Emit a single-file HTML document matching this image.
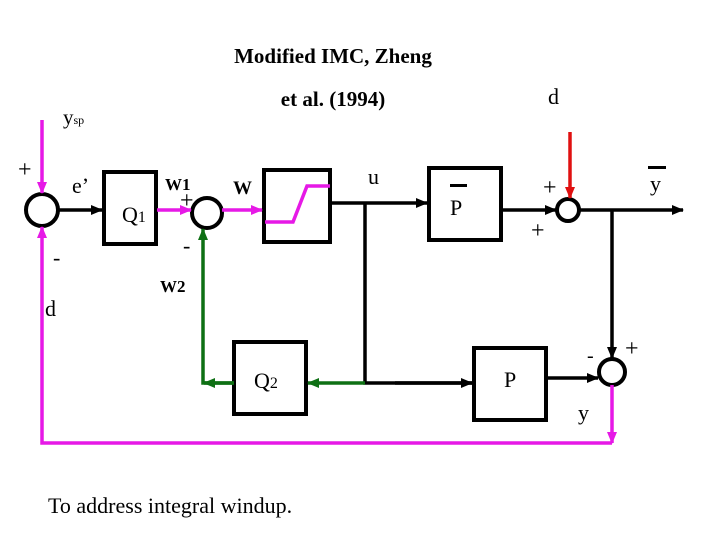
<!DOCTYPE html>
<html><head><style>body{margin:0;background:#fff}</style></head><body>
<svg width="720" height="540" viewBox="0 0 720 540" xmlns="http://www.w3.org/2000/svg" font-family="Liberation Serif, serif">
<defs>
<marker id="ak" markerWidth="12" markerHeight="10" refX="11" refY="5" orient="auto" markerUnits="userSpaceOnUse"><path d="M0,0 L12,5 L0,10 z" fill="#000"/></marker>
<marker id="am" markerWidth="12" markerHeight="10" refX="11" refY="5" orient="auto" markerUnits="userSpaceOnUse"><path d="M0,0 L12,5 L0,10 z" fill="#e619e6"/></marker>
<marker id="ag" markerWidth="12" markerHeight="10" refX="11" refY="5" orient="auto" markerUnits="userSpaceOnUse"><path d="M0,0 L12,5 L0,10 z" fill="#0e7014"/></marker>
<marker id="ar" markerWidth="12" markerHeight="10" refX="11" refY="5" orient="auto" markerUnits="userSpaceOnUse"><path d="M0,0 L12,5 L0,10 z" fill="#e01010"/></marker>
</defs>
<text x="333" y="63" font-size="21" font-weight="bold" text-anchor="middle">Modified IMC, Zheng</text>
<text x="333" y="106" font-size="21" font-weight="bold" text-anchor="middle">et al. (1994)</text>
<text x="548" y="104" font-size="22">d</text>
<text x="63" y="124" font-size="21">y<tspan font-size="12">sp</tspan></text>
<text x="18" y="177" font-size="24">+</text>
<text x="72" y="193" font-size="22">e’</text>
<text x="53" y="265" font-size="22">-</text>
<text x="45" y="316" font-size="22">d</text>
<text x="165" y="190" font-size="17" font-weight="bold">W1</text>
<text x="180" y="208" font-size="24">+</text>
<text x="183" y="253" font-size="22">-</text>
<text x="160" y="292" font-size="17" font-weight="bold">W2</text>
<text x="233" y="194" font-size="19" font-weight="bold">W</text>
<text x="368" y="184" font-size="22">u</text>
<text x="450" y="215" font-size="22">P</text>
<rect x="450" y="184" width="17" height="3" fill="#000"/>
<text x="543" y="195" font-size="24">+</text>
<text x="531" y="238" font-size="24">+</text>
<text x="650" y="191" font-size="22">y</text>
<rect x="648" y="166" width="18" height="3" fill="#000"/>
<text x="587" y="362" font-size="20">-</text>
<text x="625" y="356" font-size="24">+</text>
<text x="578" y="420" font-size="22">y</text>
<text x="504" y="387" font-size="22">P</text>
<text x="254" y="388" font-size="22">Q<tspan font-size="16">2</tspan></text>
<text x="122" y="222" font-size="22">Q<tspan font-size="16">1</tspan></text>
<text x="48" y="513" font-size="22">To address integral windup.</text>
<g fill="none" stroke="#000" stroke-width="4">
<rect x="104" y="172" width="52" height="72"/>
<rect x="264" y="170" width="66" height="72"/>
<rect x="429" y="168" width="72" height="72"/>
<rect x="234" y="342" width="72" height="72"/>
<rect x="474" y="348" width="72" height="72"/>
<circle cx="42" cy="210" r="16"/>
<circle cx="207" cy="213" r="15"/>
<circle cx="568" cy="210" r="11"/>
<circle cx="612" cy="372" r="13"/>
</g>
<g fill="none" stroke="#000" stroke-width="3.5">
<path d="M58,210 H102" marker-end="url(#ak)"/>
<path d="M331,203 H365 M365,203 V383 H472" />
<path d="M365,203 H427" marker-end="url(#ak)"/>
<path d="M395,383 H472" marker-end="url(#ak)"/>
<path d="M501,210 H556" marker-end="url(#ak)"/>
<path d="M579,210 H683" marker-end="url(#ak)"/>
<path d="M612,210 V358" marker-end="url(#ak)"/>
<path d="M546,378 H598" marker-end="url(#ak)"/>
</g>
<g fill="none" stroke="#e619e6" stroke-width="3.5">
<path d="M42,120 V193" marker-end="url(#am)"/>
<path d="M157,210 H191" marker-end="url(#am)"/>
<path d="M222,210 H262" marker-end="url(#am)"/>
<path d="M265,222 H293 L307,186 H330"/>
<path d="M612,385 V443" marker-end="url(#am)"/>
<path d="M612,443 H42 V227" marker-end="url(#am)"/>
</g>
<g fill="none" stroke="#0e7014" stroke-width="3.5">
<path d="M365,383 H308" marker-end="url(#ag)"/>
<path d="M234,383 H203 V229" marker-end="url(#ag)"/>
<path d="M234,383 H204" marker-end="url(#ag)"/>
</g>
<path d="M570,132 V198" stroke="#e01010" stroke-width="3.5" fill="none" marker-end="url(#ar)"/>
</svg>
</body></html>
